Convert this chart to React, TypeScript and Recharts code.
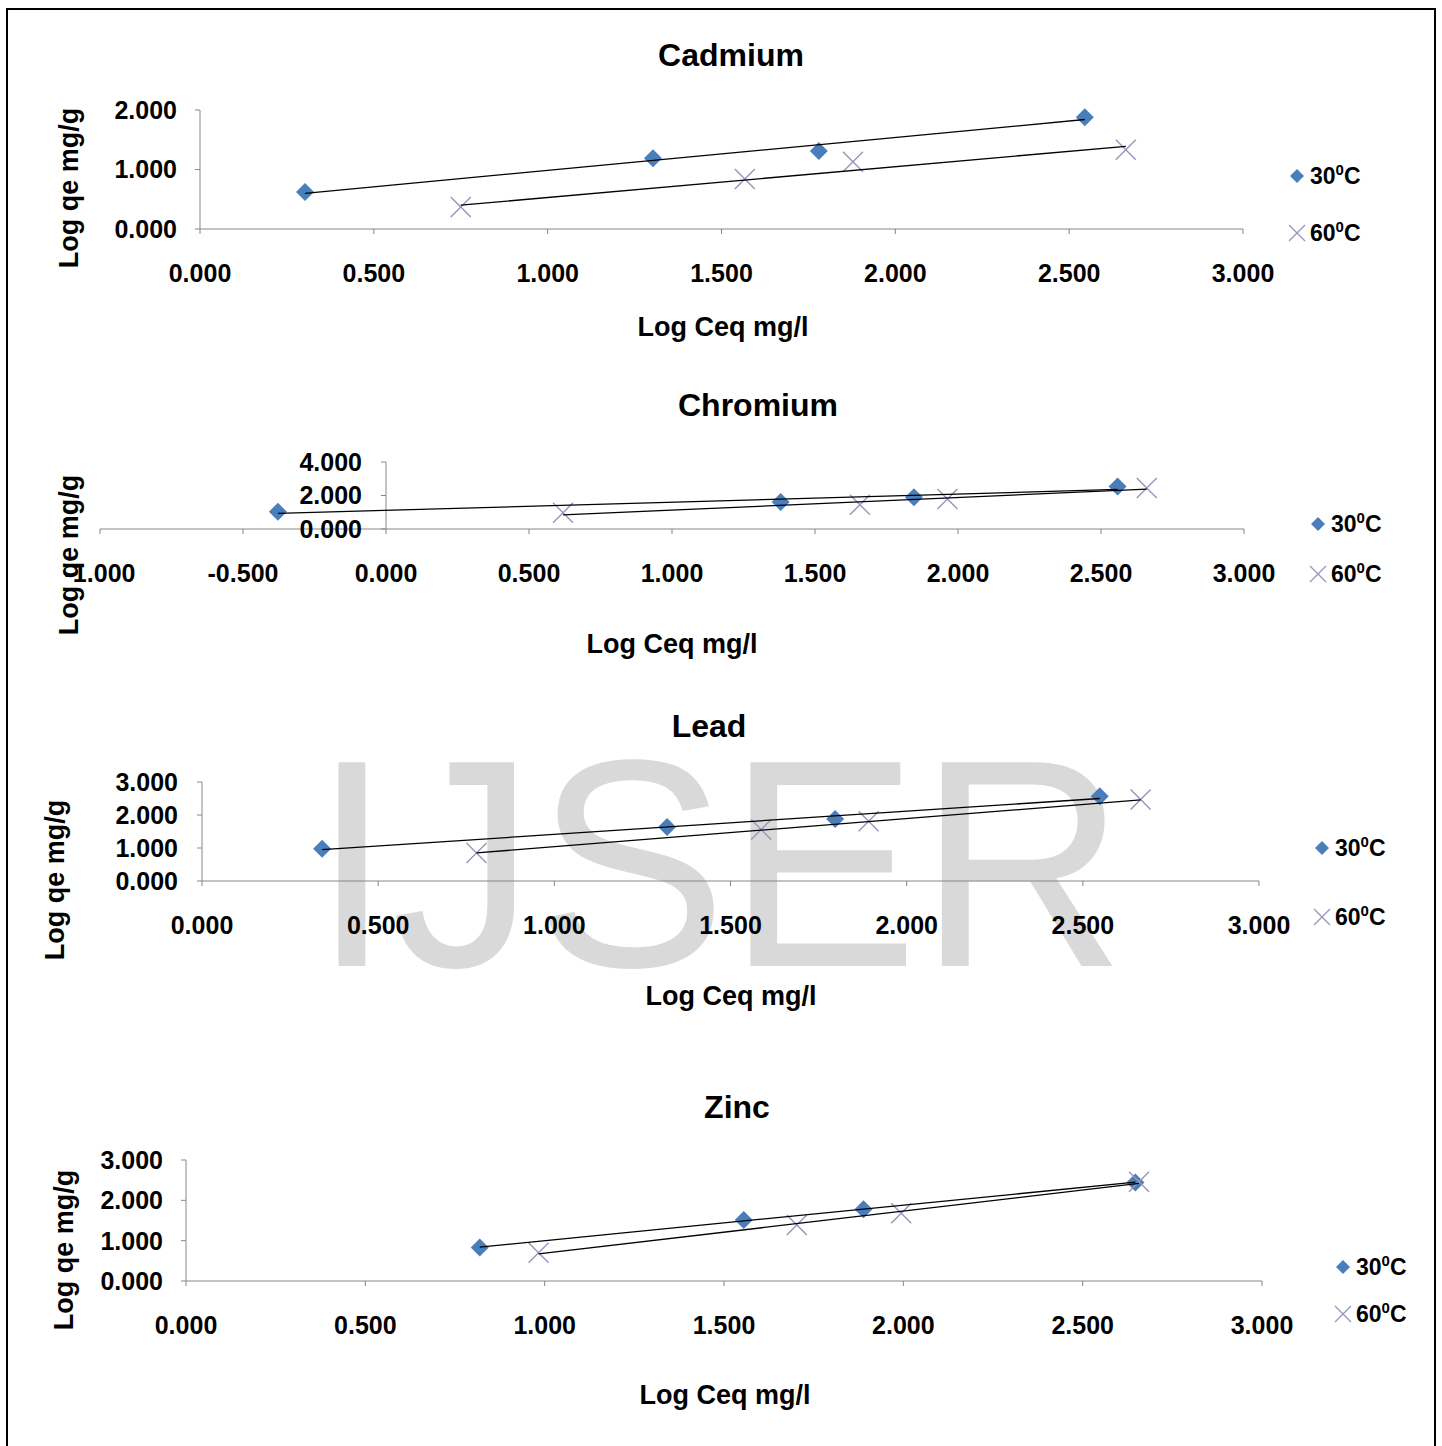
import React from "react";
import { ScatterChart, Scatter, XAxis, YAxis, ReferenceLine, Legend } from "recharts";

// series names (temperature, °C)
const TEMPS = ["30", "60"];

// shared x ticks
const X_TICKS = [0, 0.5, 1, 1.5, 2, 2.5, 3];
const X_TICKS_CR = [-1, -0.5, 0, 0.5, 1, 1.5, 2, 2.5, 3];

// Cadmium
const CD_X30 = [0.302, 1.303, 1.78, 2.545];
const CD_Y30 = [0.62, 1.19, 1.31, 1.88];
const CD_X60 = [0.75, 1.567, 1.878, 2.663];
const CD_Y60 = [0.37, 0.84, 1.13, 1.33];
const CD_FIT30 = [0.6, 1.84]; // trendline value at first / last point
const CD_FIT60 = [0.4, 1.39];
const CD_Y_TICKS = [0, 1, 2];

// Chromium
const CR_X30 = [-0.378, 1.38, 1.846, 2.558];
const CR_Y30 = [1.03, 1.61, 1.89, 2.54];
const CR_X60 = [0.619, 1.657, 1.963, 2.66];
const CR_Y60 = [0.97, 1.45, 1.79, 2.45];
const CR_FIT30 = [0.93, 2.36];
const CR_FIT60 = [0.84, 2.38];
const CR_Y_TICKS = [0, 2, 4];

// Lead
const PB_X30 = [0.341, 1.32, 1.797, 2.548];
const PB_Y30 = [0.98, 1.64, 1.88, 2.57];
const PB_X60 = [0.779, 1.587, 1.892, 2.664];
const PB_Y60 = [0.85, 1.56, 1.81, 2.47];
const PB_FIT30 = [0.95, 2.5];
const PB_FIT60 = [0.85, 2.46];
const PB_Y_TICKS = [0, 1, 2, 3];

// Zinc
const ZN_X30 = [0.819, 1.555, 1.889, 2.647];
const ZN_Y30 = [0.83, 1.51, 1.78, 2.44];
const ZN_X60 = [0.983, 1.703, 1.994, 2.657];
const ZN_Y60 = [0.7, 1.39, 1.68, 2.46];
const ZN_FIT30 = [0.84, 2.45];
const ZN_FIT60 = [0.67, 2.42];
const ZN_Y_TICKS = [0, 1, 2, 3];

const W = 1442;
const FONT = '"Liberation Sans", Arial, sans-serif';
const AXIS = "#878787";
const BLUE = "#4a7ebb";
const CROSS = "#9595bd";

type Pt = { x: number; y: number };
const pts = (xs: number[], ys: number[]): Pt[] => xs.map((x, i) => ({ x, y: ys[i] }));
const fitPts = (xs: number[], f: number[]): Pt[] => [
  { x: xs[0], y: f[0] },
  { x: xs[xs.length - 1], y: f[1] },
];
const fmt = (v: number) => v.toFixed(3);

const Diamond = (props: any) => {
  const { cx, cy } = props;
  const r = 9;
  return <polygon points={`${cx},${cy - r} ${cx + r},${cy} ${cx},${cy + r} ${cx - r},${cy}`} fill={BLUE} />;
};

const Cross = (props: any) => {
  const { cx, cy } = props;
  const r = 10;
  return (
    <g stroke={CROSS} strokeWidth={1.4}>
      <line x1={cx - r} y1={cy - r} x2={cx + r} y2={cy + r} />
      <line x1={cx - r} y1={cy + r} x2={cx + r} y2={cy - r} />
    </g>
  );
};

const Empty = () => <g />;

function Txt({ x, y, size, rotate, children }: any) {
  return (
    <div
      style={{
        position: "absolute",
        left: x,
        top: y,
        transform: `translate(-50%, -50%)${rotate ? " rotate(-90deg)" : ""}`,
        whiteSpace: "nowrap",
        fontFamily: FONT,
        fontWeight: 700,
        fontSize: size,
        lineHeight: 1.15,
        color: "#000",
      }}
    >
      {children}
    </div>
  );
}

const ROW_H = 26;

function LegendBox({ payload, gap }: any) {
  const items = (payload ?? []).filter((e: any) => e.type !== "none");
  return (
    <div style={{ position: "relative", width: 110, height: gap + ROW_H }}>
      {items.map((e: any) => {
        const idx = TEMPS.indexOf(String(e.value));
        return (
          <div
            key={e.value}
            style={{ position: "absolute", left: 0, top: idx * gap, height: ROW_H, display: "flex", alignItems: "center" }}
          >
            <svg width={22} height={22}>
              {idx === 0 ? (
                <polygon points="11,4 18,11 11,18 4,11" fill={BLUE} />
              ) : (
                <g stroke={CROSS} strokeWidth={1.3}>
                  <line x1={3} y1={3} x2={19} y2={19} />
                  <line x1={3} y1={19} x2={19} y2={3} />
                </g>
              )}
            </svg>
            <span style={{ fontFamily: FONT, fontWeight: 700, fontSize: 23, marginLeft: 2, lineHeight: 1 }}>
              {e.value}
              <sup style={{ fontSize: 15, lineHeight: 0 }}>0</sup>C
            </span>
          </div>
        );
      })}
    </div>
  );
}

interface PanelProps {
  title: string;
  xs30: number[];
  ys30: number[];
  xs60: number[];
  ys60: number[];
  fit30: number[];
  fit60: number[];
  xTicks: number[];
  yTicks: number[];
  box: { left: number; right: number; top: number; bottom: number };
  yAtZero?: boolean;
  yTickGap: number;
  titleAt: number[];
  xTitleAt: number[];
  yTitleAt: number[];
  legendAt: number[];
  legendGap: number;
}

const tickStyle = { fill: "#000", fontSize: 25, fontWeight: 700, fontFamily: FONT };

function Panel(p: PanelProps) {
  const padTop = 20;
  const xAxisH = 70;
  const padBottom = 10;
  const h = padTop + (p.box.bottom - p.box.top) + xAxisH + padBottom;
  const chartTop = p.box.top - padTop;
  const xDomain = [p.xTicks[0], p.xTicks[p.xTicks.length - 1]];
  const yDomain = [p.yTicks[0], p.yTicks[p.yTicks.length - 1]];
  // y tick length in data units when the y axis sits at x = 0
  const tickLen = ((xDomain[1] - xDomain[0]) * 5) / (p.box.right - p.box.left);

  return (
    <>
      <Txt x={p.titleAt[0]} y={p.titleAt[1]} size={32}>{p.title}</Txt>
      <Txt x={p.xTitleAt[0]} y={p.xTitleAt[1]} size={27}>Log Ceq mg/l</Txt>
      <div style={{ position: "absolute", left: 0, top: chartTop }}>
        <ScatterChart
          width={W}
          height={h}
          margin={{ top: padTop, right: W - p.box.right, bottom: padBottom, left: p.yAtZero ? p.box.left : 0 }}
        >
          <XAxis
            type="number"
            dataKey="x"
            domain={xDomain}
            ticks={p.xTicks}
            interval={0}
            tickFormatter={fmt}
            height={xAxisH}
            axisLine={{ stroke: AXIS }}
            tickLine={{ stroke: AXIS }}
            tickSize={5}
            tickMargin={30}
            tick={tickStyle}
          />
          <YAxis
            type="number"
            dataKey="y"
            domain={yDomain}
            ticks={p.yTicks}
            interval={0}
            tickFormatter={fmt}
            width={p.box.left}
            hide={p.yAtZero}
            axisLine={{ stroke: AXIS }}
            tickLine={{ stroke: AXIS }}
            tickSize={5}
            tickMargin={p.yTickGap}
            tick={tickStyle}
          />
          {p.yAtZero && (
            <ReferenceLine segment={[{ x: 0, y: yDomain[0] }, { x: 0, y: yDomain[1] }]} stroke={AXIS} />
          )}
          {p.yAtZero &&
            p.yTicks.map((v) => (
              <ReferenceLine
                key={v}
                segment={[{ x: -tickLen, y: v }, { x: 0, y: v }]}
                stroke={AXIS}
                label={{ value: fmt(v), position: "left", offset: p.yTickGap, ...tickStyle }}
              />
            ))}
          <Scatter name={TEMPS[0]} data={pts(p.xs30, p.ys30)} shape={Diamond} isAnimationActive={false} />
          <Scatter name={TEMPS[1]} data={pts(p.xs60, p.ys60)} shape={Cross} isAnimationActive={false} />
          <Scatter
            data={fitPts(p.xs30, p.fit30)}
            line={{ stroke: "#000", strokeWidth: 1.3 }}
            shape={Empty}
            legendType="none"
            isAnimationActive={false}
          />
          <Scatter
            data={fitPts(p.xs60, p.fit60)}
            line={{ stroke: "#000", strokeWidth: 1.3 }}
            shape={Empty}
            legendType="none"
            isAnimationActive={false}
          />
          <Legend
            layout="vertical"
            align="center"
            verticalAlign="middle"
            content={(lp: any) => <LegendBox payload={lp.payload} gap={p.legendGap} />}
            wrapperStyle={{
              position: "absolute",
              left: p.legendAt[0] - 11,
              top: p.legendAt[1] - chartTop - ROW_H / 2,
              width: 110,
            }}
          />
        </ScatterChart>
      </div>
      <Txt x={p.yTitleAt[0]} y={p.yTitleAt[1]} size={27} rotate>Log qe mg/g</Txt>
    </>
  );
}

export default function App() {
  return (
    <div
      style={{
        position: "absolute",
        left: 0,
        top: 0,
        width: W,
        height: 1446,
        background: "#fff",
        overflow: "hidden",
      }}
    >
      <div
        style={{
          position: "absolute",
          left: 6,
          top: 8,
          width: 1430,
          height: 1460,
          border: "2px solid #000",
          boxSizing: "border-box",
        }}
      />
      <div
        style={{
          position: "absolute",
          left: 312,
          top: 716,
          fontFamily: FONT,
          fontSize: 296,
          lineHeight: 1,
          color: "#d9d9d9",
          whiteSpace: "nowrap",
          transform: "scaleX(0.97)",
          transformOrigin: "left top",
        }}
      >
        IJSER
      </div>
      <Panel
        title="Cadmium"
        xs30={CD_X30}
        ys30={CD_Y30}
        xs60={CD_X60}
        ys60={CD_Y60}
        fit30={CD_FIT30}
        fit60={CD_FIT60}
        xTicks={X_TICKS}
        yTicks={CD_Y_TICKS}
        box={{ left: 200, right: 1243, top: 110, bottom: 229 }}
        yTickGap={18}
        titleAt={[731, 55]}
        xTitleAt={[723, 328]}
        yTitleAt={[70, 188]}
        legendAt={[1297, 176]}
        legendGap={57}
      />
      <Panel
        title="Chromium"
        xs30={CR_X30}
        ys30={CR_Y30}
        xs60={CR_X60}
        ys60={CR_Y60}
        fit30={CR_FIT30}
        fit60={CR_FIT60}
        xTicks={X_TICKS_CR}
        yTicks={CR_Y_TICKS}
        box={{ left: 100, right: 1244, top: 462, bottom: 529 }}
        yAtZero
        yTickGap={19}
        titleAt={[758, 405]}
        xTitleAt={[672, 645]}
        yTitleAt={[70, 555]}
        legendAt={[1318, 524]}
        legendGap={50}
      />
      <Panel
        title="Lead"
        xs30={PB_X30}
        ys30={PB_Y30}
        xs60={PB_X60}
        ys60={PB_Y60}
        fit30={PB_FIT30}
        fit60={PB_FIT60}
        xTicks={X_TICKS}
        yTicks={PB_Y_TICKS}
        box={{ left: 202, right: 1259, top: 782, bottom: 881 }}
        yTickGap={19}
        titleAt={[709, 726]}
        xTitleAt={[731, 997]}
        yTitleAt={[56, 880]}
        legendAt={[1322, 848]}
        legendGap={69}
      />
      <Panel
        title="Zinc"
        xs30={ZN_X30}
        ys30={ZN_Y30}
        xs60={ZN_X60}
        ys60={ZN_Y60}
        fit30={ZN_FIT30}
        fit60={ZN_FIT60}
        xTicks={X_TICKS}
        yTicks={ZN_Y_TICKS}
        box={{ left: 186, right: 1262, top: 1160, bottom: 1281 }}
        yTickGap={18}
        titleAt={[737, 1107]}
        xTitleAt={[725, 1396]}
        yTitleAt={[65, 1250]}
        legendAt={[1343, 1267]}
        legendGap={47}
      />
    </div>
  );
}
